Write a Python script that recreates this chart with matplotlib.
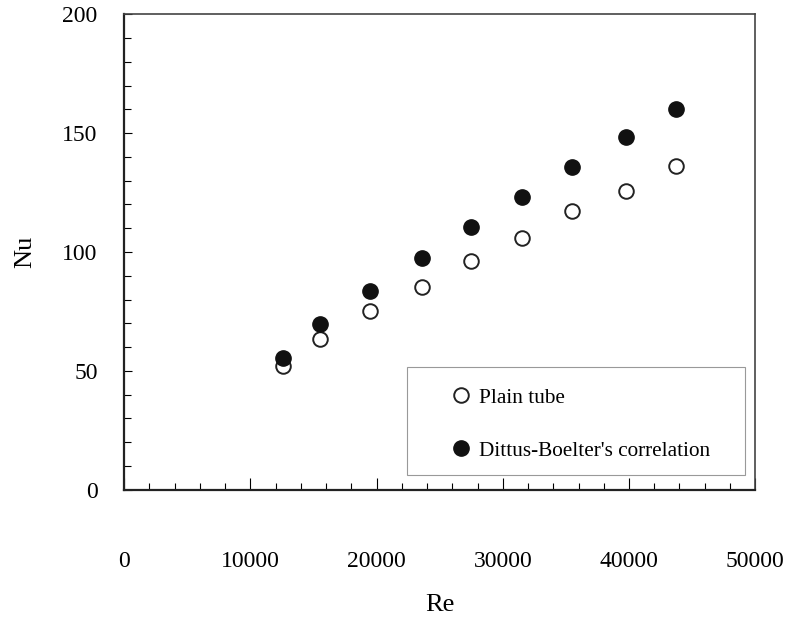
import matplotlib.pyplot as plt
from matplotlib.ticker import MultipleLocator
from matplotlib.patches import Rectangle

plt.rcParams['font.family'] = ['Liberation Serif', 'DejaVu Serif']

# data
re_vals = [12600, 15500, 19500, 23600, 27500, 31500, 35500, 39800, 43700]
nu_plain = [52.2, 63.4, 75.1, 85.4, 96.1, 105.9, 117.2, 125.8, 136.3]
nu_dittus = [55.6, 69.7, 83.7, 97.4, 110.5, 123.1, 135.6, 148.2, 160.1]

fig = plt.figure(figsize=(7.9, 6.2), dpi=100)
ax = fig.add_axes([0.157, 0.21, 0.799, 0.767])

ax.plot(re_vals, nu_plain, 'o', ms=10.5, mfc='white', mec='#222222', mew=1.4,
        linestyle='none', label='Plain tube')
ax.plot(re_vals, nu_dittus, 'o', ms=11, mfc='#111111', mec='#111111',
        linestyle='none', label="Dittus-Boelter's correlation")

ax.set_xlim(0, 50000)
ax.set_ylim(0, 200)
ax.xaxis.set_major_locator(MultipleLocator(10000))
ax.xaxis.set_minor_locator(MultipleLocator(2000))
ax.yaxis.set_major_locator(MultipleLocator(50))
ax.yaxis.set_minor_locator(MultipleLocator(10))

ax.tick_params(axis='x', which='both', direction='in', top=False, pad=44,
               labelsize=17)
ax.tick_params(axis='y', which='both', direction='in', right=False, pad=19,
               labelsize=17)
ax.tick_params(axis='x', which='major', length=9, width=0.8)
ax.tick_params(axis='x', which='minor', length=5, width=0.8)
ax.tick_params(axis='y', which='major', length=6, width=0.8)
ax.tick_params(axis='y', which='minor', length=5, width=0.8)

for side in ['left', 'bottom']:
    ax.spines[side].set_linewidth(1.6)
    ax.spines[side].set_color('#222222')
for side in ['top', 'right']:
    ax.spines[side].set_linewidth(1.2)
    ax.spines[side].set_color('#444444')

ax.set_xlabel('Re', fontsize=19, labelpad=16)
ax.set_ylabel('Nu', fontsize=19, labelpad=19)

# legend box drawn separately so the padding matches the original
ax.add_patch(Rectangle((0.4485, 0.0315), 0.5355, 0.227, transform=ax.transAxes,
                       fill=False, edgecolor='#999999', linewidth=0.8))
leg = ax.legend(loc='upper left', bbox_to_anchor=(0.5166, 0.2143), fontsize=15.3,
                frameon=False, labelspacing=1.55, borderpad=0, borderaxespad=0,
                handletextpad=0.36, handlelength=1.0)

fig.savefig('out.png', dpi=100)
